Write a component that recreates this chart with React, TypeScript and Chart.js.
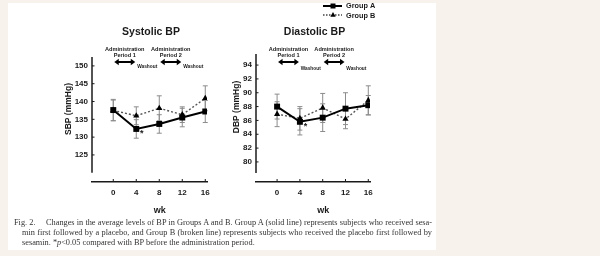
import React, { useEffect, useRef } from "react";
import { Chart, registerables } from "chart.js";

Chart.register(...registerables);

// ---------------- data ----------------
const weeks = [0, 4, 8, 12, 16];
const sbpA = [137.6, 132.3, 133.7, 135.5, 137.2];
const sbpB = [137.5, 136.0, 138.1, 136.3, 140.9];
const sbpAErr = [3.0, 2.6, 2.6, 2.6, 3.1];
const sbpBErr = [2.9, 2.5, 3.5, 2.2, 3.5];
const dbpA = [88.0, 85.8, 86.4, 87.7, 88.2];
const dbpB = [86.9, 86.3, 87.8, 86.2, 88.9];
const dbpAErr = [1.8, 1.9, 2.0, 2.3, 1.4];
const dbpBErr = [1.8, 1.7, 2.1, 1.4, 2.1];
const sbpTicks = [125, 130, 135, 140, 145, 150];
const dbpTicks = [80, 82, 84, 86, 88, 90, 92, 94];
const seriesNames = ["Group A", "Group B"];
const captionLines = [
  "Fig. 2.\u2003 Changes in the average levels of BP in Groups A and B. Group A (solid line) represents subjects who received sesa-",
  "min first followed by a placebo, and Group B (broken line) represents subjects who received the placebo first followed by",
];

const SANS = '"Liberation Sans", Arial, sans-serif';
const INK = "#1a1a1a";
const BG = "#f7f3ec";

type PanelCfg = {
  title: string;
  yTitle: string;
  a: number[];
  b: number[];
  aErr: number[];
  bErr: number[];
  yTicks: number[];
  yMin: number;
  yMax: number;
  yAxisEnd: number;
  padding: { left: number; top: number; right: number; bottom: number };
  yWidth: number;
  yTitleOffset: number;
  yTitleY: number;
  washoutY: number;
  legend: boolean;
};

const leftCfg: PanelCfg = {
  title: "Systolic BP",
  yTitle: "SBP (mmHg)",
  a: sbpA,
  b: sbpB,
  aErr: sbpAErr,
  bErr: sbpBErr,
  yTicks: sbpTicks,
  yMin: 117.4,
  yMax: 152.5,
  yAxisEnd: 120,
  padding: { left: 62, top: 57, right: 393, bottom: 34 },
  yWidth: 30,
  yTitleOffset: 23,
  yTitleY: 109,
  washoutY: 67,
  legend: false,
};

const rightCfg: PanelCfg = {
  title: "Diastolic BP",
  yTitle: "DBP (mmHg)",
  a: dbpA,
  b: dbpB,
  aErr: dbpAErr,
  bErr: dbpBErr,
  yTicks: dbpTicks,
  yMin: 77.1,
  yMax: 95.6,
  yAxisEnd: 78.4,
  padding: { left: 230, top: 54, right: 230, bottom: 34 },
  yWidth: 26,
  yTitleOffset: 19.5,
  yTitleY: 107,
  washoutY: 69,
  legend: true,
};

function drawTriangle(ctx: CanvasRenderingContext2D, x: number, y: number, r: number) {
  ctx.beginPath();
  ctx.moveTo(x, y - r);
  ctx.lineTo(x + r * 0.9, y + r * 0.6);
  ctx.lineTo(x - r * 0.9, y + r * 0.6);
  ctx.closePath();
  ctx.fill();
}

function drawArrow(ctx: CanvasRenderingContext2D, x1: number, x2: number, y: number) {
  ctx.save();
  ctx.strokeStyle = "#000";
  ctx.fillStyle = "#000";
  ctx.lineWidth = 2;
  ctx.beginPath();
  ctx.moveTo(x1 + 3, y);
  ctx.lineTo(x2 - 3, y);
  ctx.stroke();
  const h = 4.5, w = 3.2;
  ctx.beginPath();
  ctx.moveTo(x1, y);
  ctx.lineTo(x1 + h, y - w);
  ctx.lineTo(x1 + h, y + w);
  ctx.closePath();
  ctx.fill();
  ctx.beginPath();
  ctx.moveTo(x2, y);
  ctx.lineTo(x2 - h, y - w);
  ctx.lineTo(x2 - h, y + w);
  ctx.closePath();
  ctx.fill();
  ctx.restore();
}

function makePlugin(cfg: PanelCfg) {
  return {
    id: "decor",
    beforeDatasetsDraw(chart: any) {
      const ctx = chart.ctx as CanvasRenderingContext2D;
      const xs = chart.scales.x;
      const ys = chart.scales.y;
      ctx.save();
      ctx.strokeStyle = "#8c8c8c";
      ctx.lineWidth = 1;
      const sets: [number[], number[]][] = [
        [cfg.b, cfg.bErr],
        [cfg.a, cfg.aErr],
      ];
      for (const [vals, errs] of sets) {
        vals.forEach((v, i) => {
          const x = xs.getPixelForValue(weeks[i]);
          const y1 = ys.getPixelForValue(v + errs[i]);
          const y2 = ys.getPixelForValue(v - errs[i]);
          ctx.beginPath();
          ctx.moveTo(x, y1);
          ctx.lineTo(x, y2);
          ctx.moveTo(x - 2.5, y1);
          ctx.lineTo(x + 2.5, y1);
          ctx.moveTo(x - 2.5, y2);
          ctx.lineTo(x + 2.5, y2);
          ctx.stroke();
        });
      }
      ctx.restore();
    },
    afterDraw(chart: any) {
      const ctx = chart.ctx as CanvasRenderingContext2D;
      const xs = chart.scales.x;
      const ys = chart.scales.y;
      const { left, right, top, bottom } = chart.chartArea;
      ctx.save();
      // y axis line
      ctx.strokeStyle = INK;
      ctx.lineWidth = 1.5;
      ctx.beginPath();
      ctx.moveTo(left, top);
      ctx.lineTo(left, ys.getPixelForValue(cfg.yAxisEnd));
      ctx.stroke();
      ctx.lineWidth = 1;
      // y tick marks
      for (const t of cfg.yTicks) {
        const y = ys.getPixelForValue(t);
        ctx.beginPath();
        ctx.moveTo(left, y);
        ctx.lineTo(left + 2.5, y);
        ctx.stroke();
      }
      // x tick marks (upward)
      for (const w of weeks) {
        const x = xs.getPixelForValue(w);
        ctx.beginPath();
        ctx.moveTo(x, bottom);
        ctx.lineTo(x, bottom - 3);
        ctx.stroke();
      }
      ctx.fillStyle = INK;
      // chart title
      ctx.font = `bold 10.5px ${SANS}`;
      ctx.textAlign = "center";
      ctx.textBaseline = "middle";
      ctx.fillText(cfg.title, (left + right) / 2 + 1.5, 32);
      // x axis title
      ctx.font = `bold 9px ${SANS}`;
      ctx.fillText("wk", xs.getPixelForValue(8.1), 211);
      // y axis title
      ctx.save();
      ctx.translate(left - cfg.yTitleOffset, cfg.yTitleY);
      ctx.rotate(-Math.PI / 2);
      ctx.font = `bold 8.5px ${SANS}`;
      ctx.fillText(cfg.yTitle, 0, 0);
      ctx.restore();
      // administration annotations
      ctx.font = `bold 5.6px ${SANS}`;
      const periods = [
        [0, 4, "Period 1"],
        [8, 12, "Period 2"],
      ] as const;
      for (const [s, e, label] of periods) {
        const x1 = xs.getPixelForValue(s);
        const x2 = xs.getPixelForValue(e);
        const cx = (x1 + x2) / 2;
        ctx.fillText("Administration", cx, 49.5);
        ctx.fillText(label, cx, 55.5);
        drawArrow(ctx, x1 + 1, x2 - 1, 62);
      }
      ctx.font = `bold 4.8px ${SANS}`;
      ctx.fillText("Washout", xs.getPixelForValue(5.9), cfg.washoutY);
      ctx.fillText("Washout", xs.getPixelForValue(13.9), cfg.washoutY);
      // asterisk next to Group A week 4
      ctx.font = `bold 9px ${SANS}`;
      ctx.fillText("*", xs.getPixelForValue(4) + 5.5, ys.getPixelForValue(cfg.a[1]) + 5);
      // legend
      if (cfg.legend) {
        const lx1 = 323, lx2 = 342, mx = 333;
        ctx.strokeStyle = "#000";
        ctx.lineWidth = 2;
        ctx.beginPath();
        ctx.moveTo(lx1, 6);
        ctx.lineTo(lx2, 6);
        ctx.stroke();
        ctx.fillStyle = "#000";
        ctx.fillRect(mx - 2.5, 3.5, 5, 5);
        ctx.strokeStyle = "#444";
        ctx.lineWidth = 1.3;
        ctx.setLineDash([1.5, 1.5]);
        ctx.beginPath();
        ctx.moveTo(lx1, 15);
        ctx.lineTo(lx2, 15);
        ctx.stroke();
        ctx.setLineDash([]);
        drawTriangle(ctx, mx, 15, 3);
        ctx.fillStyle = INK;
        ctx.textAlign = "left";
        ctx.font = `bold 7.3px ${SANS}`;
        ctx.fillText(seriesNames[0], 346, 6);
        ctx.fillText(seriesNames[1], 346, 15.5);
      }
      ctx.restore();
    },
  };
}

function Panel({ cfg }: { cfg: PanelCfg }) {
  const ref = useRef<HTMLCanvasElement | null>(null);
  useEffect(() => {
    if (!ref.current) return;
    const tickFont = { family: SANS, size: 8, weight: "bold" as const };
    const chart = new Chart(ref.current, {
      type: "line",
      data: {
        datasets: [
          {
            label: seriesNames[0],
            data: weeks.map((w, i) => ({ x: w, y: cfg.a[i] })),
            borderColor: "#000",
            backgroundColor: "#000",
            borderWidth: 2,
            pointStyle: "rect",
            pointRadius: 4.2,
            pointBorderWidth: 0,
            tension: 0,
            order: 0,
          },
          {
            label: seriesNames[1],
            data: weeks.map((w, i) => ({ x: w, y: cfg.b[i] })),
            borderColor: "#555",
            backgroundColor: "#000",
            borderWidth: 1.4,
            borderDash: [2, 2],
            pointStyle: "triangle",
            pointRadius: 3.6,
            pointBorderWidth: 0,
            tension: 0,
            order: 1,
          },
        ],
      },
      options: {
        animation: false,
        responsive: false,
        devicePixelRatio: 1,
        events: [],
        layout: { padding: cfg.padding },
        plugins: {
          legend: { display: false },
          tooltip: { enabled: false },
          title: { display: false },
        },
        scales: {
          x: {
            type: "linear",
            min: -3.7,
            max: 16.3,
            afterBuildTicks: (s: any) => {
              s.ticks = weeks.map((v) => ({ value: v }));
            },
            afterFit: (s: any) => {
              s.height = 40;
            },
            grid: { display: true, drawOnChartArea: false, drawTicks: false },
            border: { display: true, color: INK, width: 1.5 },
            ticks: { padding: 6, font: tickFont, color: INK, maxRotation: 0, autoSkip: false },
          },
          y: {
            type: "linear",
            min: cfg.yMin,
            max: cfg.yMax,
            afterBuildTicks: (s: any) => {
              s.ticks = cfg.yTicks.map((v) => ({ value: v }));
            },
            afterFit: (s: any) => {
              s.width = cfg.yWidth;
            },
            grid: { display: true, drawOnChartArea: false, drawTicks: false },
            border: { display: false },
            ticks: { padding: 4, font: tickFont, color: INK, autoSkip: false },
          },
        },
      },
      plugins: [makePlugin(cfg)],
    } as any);
    return () => chart.destroy();
  }, [cfg]);
  return (
    <canvas
      ref={ref}
      width={600}
      height={256}
      style={{ position: "absolute", left: 0, top: 0, width: 600, height: 256 }}
    />
  );
}

export default function App() {
  const capStyle: React.CSSProperties = {
    position: "absolute",
    fontFamily: '"Liberation Serif", "DejaVu Serif", serif',
    fontSize: 8.3,
    lineHeight: "10px",
    color: "#333",
    whiteSpace: "nowrap",
  };
  return (
    <div style={{ position: "fixed", left: 0, top: 0, width: 600, height: 256, background: BG, overflow: "hidden" }}>
      <div style={{ position: "absolute", left: 8, top: 3, width: 428, height: 247, background: "#fff" }} />
      <Panel cfg={leftCfg} />
      <Panel cfg={rightCfg} />
      <div style={{ ...capStyle, left: 14, top: 218, width: 418, textAlign: "justify", textAlignLast: "justify" }}>
        {captionLines[0]}
      </div>
      <div style={{ ...capStyle, left: 22, top: 228, width: 410, textAlign: "justify", textAlignLast: "justify" }}>
        {captionLines[1]}
      </div>
      <div style={{ ...capStyle, left: 22, top: 238 }}>
        sesamin. *<i>p</i>&lt;0.05 compared with BP before the administration period.
      </div>
    </div>
  );
}
